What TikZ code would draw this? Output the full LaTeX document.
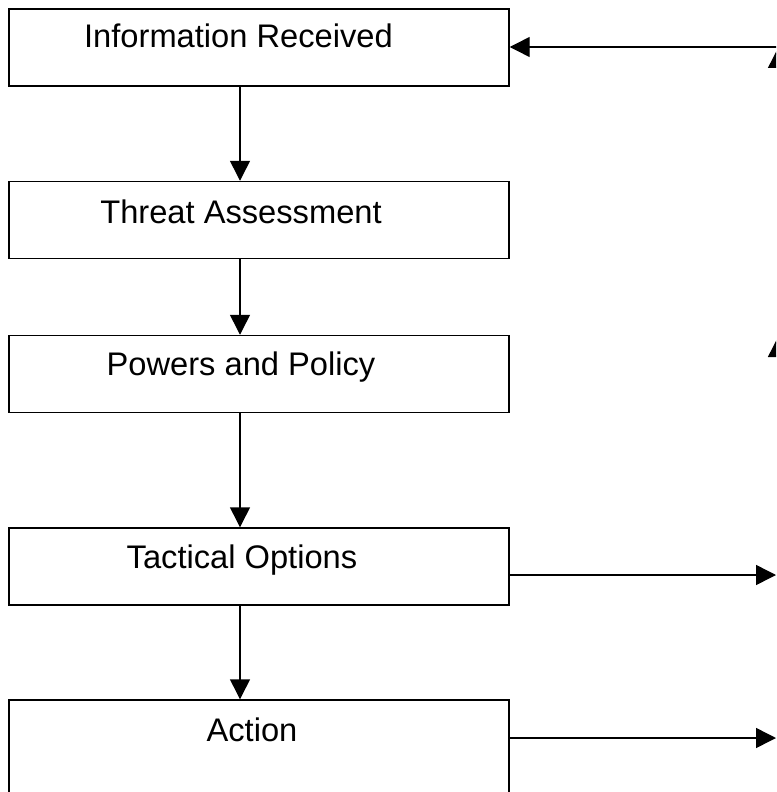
\documentclass[tikz,border=0pt]{standalone}
\usepackage{fontspec}
\setmainfont{Liberation Sans}
\usetikzlibrary{arrows.meta}

\begin{document}
\begin{tikzpicture}[x = 0.75pt, y = -0.75pt]

\tikzset{
box/.style = {rectangle, draw, line width = 1.1pt, minimum width = 375pt, minimum height = 57.75pt},
caption/.style = {font = \fontsize{24.5}{28}\selectfont, inner sep = 0pt, anchor = base},
flow/.style = {-{Triangle[length = 15pt, width = 15pt]}, line width = 1.1pt},
	}

\clip (0, 0) rectangle (776, 792);

% Boxes
\node at (259, 47.5) [box] (info) {};
\node at (259, 220) [box] (threat) {};
\node at (259, 374) [box] (powers) {};
\node at (259, 566.5) [box] (options) {};
\node at (259, 750) [box, minimum height = 75pt] (action) {};

% Captions
\node at (238.5, 48) [caption] (info text) {Information Received};
\node at (241, 223) [caption] (threat text) {Threat Assessment};
\node at (241, 375) [caption] (powers text) {Powers and Policy};
\node at (242, 568) [caption] (options text) {Tactical Options};
\node at (252, 741) [caption] (action text) {Action};

% Ends off the page
\coordinate (spine) at (240, 0);
\coordinate (return) at (800, 47);
\coordinate (upper tip) at (778, 48);
\coordinate (upper foot) at (778, 140);
\coordinate (lower tip) at (778, 337);
\coordinate (lower foot) at (778, 430);
\coordinate (options out) at (776, 575);
\coordinate (action out) at (776, 738);

% Flow
\path [flow] (spine |- info.south) edge [] (spine |- threat.north);
\path [flow] (spine |- threat.south) edge [] (spine |- powers.north);
\path [flow] (spine |- powers.south) edge [] (spine |- options.north);
\path [flow] (spine |- options.south) edge [] (spine |- action.north);

\path [flow] (return) edge [] (return -| info.east);
\path [flow] (options out -| options.east) edge [] (options out);
\path [flow] (action out -| action.east) edge [] (action out);
\path [flow] (upper foot) edge [] (upper tip);
\path [flow] (lower foot) edge [] (lower tip);

\end{tikzpicture}
\end{document}
